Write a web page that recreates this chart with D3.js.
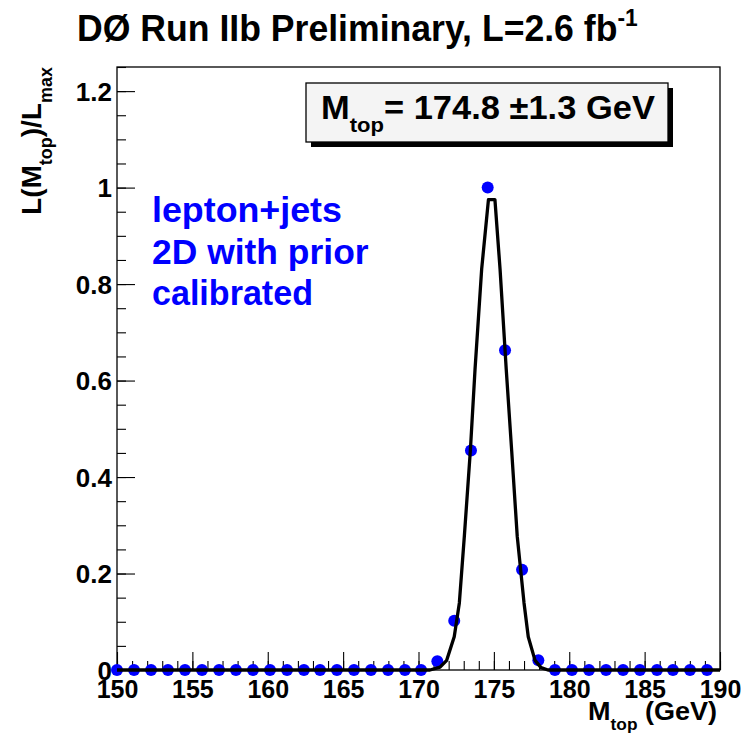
<!DOCTYPE html>
<html><head><meta charset="utf-8">
<script src="https://cdn.jsdelivr.net/npm/d3@7"></script>
<style>html,body{margin:0;padding:0;background:#fff;}svg{display:block;}</style>
</head><body>
<svg id="c" width="755" height="735"></svg>
<script>
// ---- data ----
const massPoints = [150.00,151.13,152.26,153.38,154.51,155.64,156.77,157.89,159.02,160.15,161.28,162.40,163.47,164.59,165.72,166.85,167.98,169.10,170.17,171.25,172.37,173.48,174.59,175.74,176.87,177.95,179.05,180.18,181.31,182.44,183.57,184.69,185.82,186.88,188.01,189.14];
const likelihood = [0,0,0,0,0,0,0,0,0,0,0,0,0,0,0,0,0,0,0,0.018,0.102,0.455,1.0,0.663,0.208,0.02,0,0,0,0,0,0,0,0,0,0];
const fitMass = [150,170.76,171.43,171.87,172.37,172.71,173.04,173.44,173.75,174.19,174.64,175.07,175.41,175.82,176.18,176.55,177.00,177.28,177.73,178.13,178.59,190];
const fitValue = [0,0,0.006,0.02,0.069,0.139,0.277,0.455,0.623,0.831,0.975,0.975,0.831,0.623,0.455,0.277,0.139,0.069,0.02,0.005,0,0];
const xMajorTicks = [150,155,160,165,170,175,180,185,190];
const xMinorTicks = d3.range(150,191,1);
const yMajorTicks = [0,0.2,0.4,0.6,0.8,1.0,1.2];
const yMinorTicks = d3.range(0,1.2501,0.05);
const yTickLabels = ["0","0.2","0.4","0.6","0.8","1","1.2"];
const infoLines = ["lepton+jets","2D with prior","calibrated"];

const FONT = "'Liberation Sans', Arial, Helvetica, sans-serif";
const svg = d3.select("#c");
const L = 117, R = 720, T = 67, B = 670;
const x = d3.scaleLinear().domain([150,190]).range([L,R]);
const y = d3.scaleLinear().domain([0,1.25]).range([B,T]);

function rich(parts, o) {
  const t = svg.append("text").attr("font-family", FONT).attr("font-weight","bold")
    .attr("font-size", o.size).attr("fill", o.fill || "#000").attr("text-anchor", o.anchor || "start");
  let shift = 0;
  parts.forEach(p => {
    const ts = t.append("tspan").text(p.t);
    const target = p.sub ? o.size*0.38 : (p.sup ? -o.size*0.42 : 0);
    if (target - shift !== 0) ts.attr("dy", target - shift);
    shift = target;
    if (p.sub || p.sup) ts.attr("font-size", o.size*0.64);
  });
  let k = 1;
  if (o.width) { const w = t.node().getBBox().width; k = o.width / w; }
  t.attr("transform", `translate(${o.x},${o.y})${o.rotate ? ` rotate(${o.rotate})` : ""} scale(${k},1)`);
  return t;
}

// frame
svg.append("rect").attr("x",L).attr("y",T).attr("width",R-L).attr("height",B-T)
  .attr("fill","none").attr("stroke","#000").attr("stroke-width",1.3);

// axes
const axStyle = g => { g.select(".domain").remove(); g.selectAll("line").attr("stroke","#000").attr("stroke-width",1.1); };
svg.append("g").attr("transform",`translate(0,${B})`)
  .call(d3.axisBottom(x).tickValues(xMinorTicks).tickSize(-9).tickFormat("")).call(axStyle);
svg.append("g").attr("transform",`translate(0,${B})`)
  .call(d3.axisBottom(x).tickValues(xMajorTicks).tickSize(-18).tickPadding(10).tickFormat(d3.format("d")))
  .call(axStyle)
  .call(g => g.selectAll("text").attr("font-family",FONT).attr("font-weight","bold").attr("font-size",25).attr("fill","#000"));
svg.append("g").attr("transform",`translate(${L},0)`)
  .call(d3.axisLeft(y).tickValues(yMinorTicks).tickSize(-9).tickFormat("")).call(axStyle);
svg.append("g").attr("transform",`translate(${L},0)`)
  .call(d3.axisLeft(y).tickValues(yMajorTicks).tickSize(-18).tickPadding(5).tickFormat((d,i) => yTickLabels[i]))
  .call(axStyle)
  .call(g => g.selectAll("text").attr("font-family",FONT).attr("font-weight","bold").attr("font-size",26).attr("fill","#000").attr("dy","0.36em"));

// points
svg.append("g").selectAll("circle").data(massPoints).join("circle")
  .attr("cx",(d)=>x(d)).attr("cy",(d,i)=>y(likelihood[i])).attr("r",6).attr("fill","#0000ff");

// fitted curve
const line = d3.line().x(d=>x(d[0])).y(d=>y(d[1])).curve(d3.curveLinear);
svg.append("path").datum(fitMass.map((m,i)=>[m,fitValue[i]])).attr("d",line)
  .attr("fill","none").attr("stroke","#000").attr("stroke-width",3.3).attr("stroke-linejoin","round");

// title
rich([{t:"DØ Run IIb Preliminary, L=2.6 fb"},{t:"-1",sup:true}], {x:77, y:41, size:36, width:561});

// y label
rich([{t:"L(M"},{t:"top",sub:true},{t:")/L"},{t:"max",sub:true}], {x:41, y:215, size:28, rotate:-90, width:148});

// x label
rich([{t:"M"},{t:"top",sub:true},{t:" (GeV)"}], {x:717, y:720, size:25, anchor:"end", width:129});

// result box
svg.append("rect").attr("x",311).attr("y",88).attr("width",362).attr("height",59).attr("fill","#000");
svg.append("rect").attr("x",306).attr("y",83).attr("width",362).attr("height",59)
  .attr("fill","#f4f4f4").attr("stroke","#000").attr("stroke-width",1.3);
rich([{t:"M"},{t:"top",sub:true},{t:"= 174.8 ±1.3 GeV"}], {x:321, y:119, size:33, width:334});

// info text
const infoY = [222, 263.5, 305];
const infoW = [190, 217, 161];
infoLines.forEach((s,i) => rich([{t:s}], {x:152, y:infoY[i], size:35, fill:"#0000ff", width:infoW[i]}));
</script>
</body></html>
